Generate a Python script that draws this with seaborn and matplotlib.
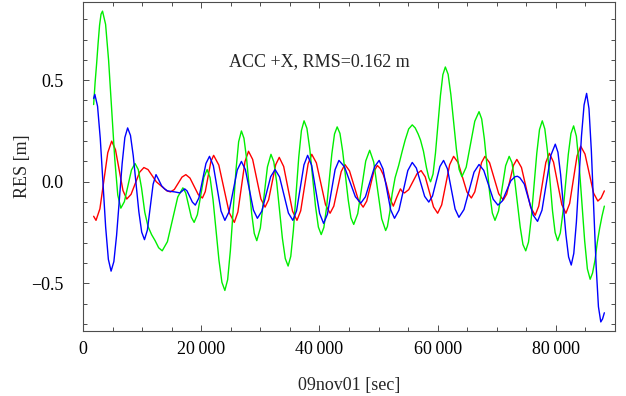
import pandas as pd
import numpy as np
import matplotlib
matplotlib.use("Agg")
import matplotlib.pyplot as plt
from matplotlib.ticker import MultipleLocator, FuncFormatter
import seaborn as sns

# Residuen, t in Sekunden, RES in m
t_red = [1800, 2200, 2860, 3530, 4190, 4850, 5490, 6130, 6760, 7400, 8130, 8850, 9580,
         10300, 11000, 11700, 12400, 13000, 13600, 14200, 14800, 15450, 16100, 16750,
         17400, 18100, 18800, 19500, 20200, 20680, 21150, 21630, 22100, 22980, 23850,
         24730, 25600, 26200, 26800, 27400, 28000, 28700, 29400, 30100, 30800, 31400,
         32000, 32600, 33200, 33950, 34700, 35450, 36200, 36830, 37450, 38080, 38700,
         39480, 40250, 41030, 41800, 42430, 43050, 43680, 44300, 45080, 45850, 46630,
         47400, 48000, 48600, 49200, 49800, 50300, 50800, 51300, 51900, 52500, 53100,
         53700, 54050, 54400, 55100, 55800, 56500, 57200, 57900, 58600, 59300, 60000,
         60680, 61350, 62030, 62700, 63450, 64200, 64950, 65700, 66280, 66850, 67430,
         68000, 68780, 69550, 70330, 71100, 71680, 72250, 72830, 73400, 74180, 74950,
         75730, 76500, 77100, 77700, 78300, 78900, 79600, 80300, 81000, 81700, 82330,
         82950, 83580, 84200, 84930, 85650, 86380, 87100, 87650, 88200]
res_red = [-0.17, -0.19, -0.133, 0.005, 0.143, 0.20, 0.158, 0.058, -0.043, -0.085, -0.062,
           -0.008, 0.047, 0.07, 0.06, 0.03, 0.0, -0.015, -0.03, -0.045, -0.05, -0.038,
           -0.008, 0.023, 0.035, 0.018, -0.023, -0.063, -0.08, -0.049, 0.025, 0.099, 0.13,
           0.082, -0.035, -0.152, -0.20, -0.149, -0.025, 0.099, 0.15, 0.11, 0.013, -0.085,
           -0.125, -0.089, -0.003, 0.084, 0.12, 0.075, -0.035, -0.145, -0.19, -0.143,
           -0.028, 0.088, 0.135, 0.093, -0.01, -0.113, -0.155, -0.12, -0.035, 0.05, 0.085,
           0.054, -0.02, -0.094, -0.125, -0.095, -0.023, 0.05, 0.08, 0.065, 0.035, -0.01,
           -0.08, -0.12, -0.075, -0.035, -0.05, -0.055, -0.039, 0.0, 0.039, 0.055, 0.024,
           -0.05, -0.124, -0.155, -0.114, -0.015, 0.084, 0.125, 0.095, 0.023, -0.05, -0.08,
           -0.05, 0.023, 0.095, 0.125, 0.094, 0.018, -0.059, -0.09, -0.061, 0.01, 0.081,
           0.11, 0.07, -0.028, -0.125, -0.165, -0.12, -0.013, 0.095, 0.14, 0.097, -0.008,
           -0.112, -0.155, -0.107, 0.01, 0.127, 0.175, 0.136, 0.04, -0.056, -0.095, -0.08,
           -0.045]

t_green = [1800, 2050, 2300, 2550, 2800, 3050, 3300, 3820, 4330, 4850, 5370, 5880, 6400,
           7000, 7600, 8200, 8800, 9350, 9900, 10450, 11000, 11600, 12200, 12800, 13400,
           14280, 15150, 16030, 16900, 17380, 17850, 18330, 18800, 19350, 19900, 20450,
           21000, 21500, 22000, 22500, 23000, 23500, 24000, 24470, 24930, 25400, 25870,
           26330, 26800, 27230, 27670, 28100, 28530, 28970, 29400, 30000, 30600, 31200,
           31800, 32280, 32770, 33250, 33730, 34220, 34700, 35150, 35600, 36050, 36500,
           36950, 37400, 37880, 38370, 38850, 39330, 39820, 40300, 40750, 41200, 41650,
           42100, 42550, 43000, 43470, 43930, 44400, 44870, 45330, 45800, 46480, 47150,
           47830, 48500, 49180, 49850, 50530, 51200, 51500, 51900, 52300, 52800, 53400,
           54000, 54500, 55100, 55700, 56200, 56700, 57100, 57600, 58100, 58500, 58800,
           59220, 59630, 60050, 60470, 60880, 61300, 61770, 62230, 62700, 63170, 63630,
           64100, 64830, 65550, 66280, 67000, 67450, 67900, 68350, 68800, 69250, 69700,
           70300, 70900, 71500, 72100, 72570, 73030, 73500, 73970, 74430, 74900, 75370,
           75830, 76300, 76770, 77230, 77700, 78130, 78570, 79000, 79430, 79870, 80300,
           80750, 81200, 81650, 82100, 82550, 83000, 83470, 83930, 84400, 84870, 85330,
           85800, 86200, 86600, 87000, 87400, 87800, 88200]
res_green = [0.38, 0.49, 0.58, 0.68, 0.77, 0.825, 0.84, 0.775, 0.598, 0.355, 0.113, -0.065,
             -0.13, -0.098, -0.02, 0.058, 0.09, 0.06, -0.03, -0.15, -0.22, -0.26, -0.29,
             -0.325, -0.34, -0.295, -0.185, -0.075, -0.03, -0.055, -0.115, -0.175, -0.20,
             -0.162, -0.07, 0.022, 0.06, 0.02, -0.089, -0.238, -0.386, -0.495, -0.535,
             -0.482, -0.339, -0.143, 0.054, 0.197, 0.25, 0.214, 0.115, -0.02, -0.155,
             -0.254, -0.29, -0.228, -0.078, 0.073, 0.135, 0.098, -0.003, -0.14, -0.278,
             -0.378, -0.415, -0.367, -0.236, -0.058, 0.121, 0.252, 0.30, 0.263, 0.16, 0.02,
             -0.12, -0.223, -0.26, -0.225, -0.128, 0.005, 0.138, 0.235, 0.27, 0.238, 0.15,
             0.03, -0.09, -0.178, -0.21, -0.157, -0.028, 0.102, 0.155, 0.097, -0.043,
             -0.182, -0.24, -0.22, -0.15, -0.06, 0.02, 0.08, 0.15, 0.205, 0.26, 0.28,
             0.265, 0.235, 0.205, 0.15, 0.07, 0.02, 0.0, 0.038, 0.141, 0.283, 0.424, 0.527,
             0.565, 0.529, 0.43, 0.295, 0.16, 0.061, 0.025, 0.072, 0.185, 0.298, 0.345,
             0.309, 0.211, 0.078, -0.056, -0.154, -0.19, -0.144, -0.033, 0.079, 0.125,
             0.094, 0.009, -0.108, -0.224, -0.309, -0.34, -0.297, -0.18, -0.02, 0.14,
             0.257, 0.30, 0.26, 0.153, 0.005, -0.143, -0.25, -0.29, -0.252, -0.149, -0.008,
             0.134, 0.237, 0.275, 0.224, 0.086, -0.103, -0.291, -0.429, -0.48, -0.45,
             -0.39, -0.30, -0.23, -0.17, -0.12]

t_blue = [1800, 2000, 2460, 2920, 3380, 3830, 4290, 4750, 5220, 5680, 6150, 6620, 7080,
          7550, 8030, 8500, 8980, 9450, 9930, 10400, 10890, 11380, 11860, 12350, 12800,
          13300, 13800, 14300, 15500, 16400, 16800, 17200, 17600, 18000, 18500, 19000,
          19600, 20200, 20800, 21400, 22050, 22700, 23350, 24000, 24700, 25400, 26100,
          26800, 27480, 28150, 28830, 29500, 30250, 31000, 31750, 32500, 33250, 34000,
          34750, 35500, 36130, 36750, 37380, 38000, 38680, 39350, 40030, 40700, 41350,
          42000, 42650, 43300, 44230, 45150, 46080, 47000, 47780, 48550, 49330, 50100,
          50750, 51400, 52050, 52700, 53450, 54200, 54950, 55700, 56400, 57100, 57800,
          58500, 59130, 59750, 60380, 61000, 61650, 62300, 62950, 63600, 64450, 65300,
          66150, 67000, 67800, 68600, 69400, 70200, 70930, 71650, 72380, 73100, 73500,
          73900, 74650, 75400, 76150, 76900, 77650, 78400, 79150, 79900, 80350, 80800,
          81250, 81700, 82150, 82600, 83030, 83470, 83900, 84330, 84770, 85200, 85600,
          86000, 86400, 86800, 87200, 87600, 87900, 88200]
res_blue = [0.41, 0.43, 0.372, 0.213, -0.005, -0.223, -0.382, -0.44, -0.393, -0.264, -0.088,
            0.089, 0.218, 0.265, 0.228, 0.128, -0.01, -0.148, -0.248, -0.285, -0.238,
            -0.125, -0.012, 0.035, 0.01, -0.02, -0.035, -0.045, -0.05, -0.055, -0.045,
            -0.035, -0.045, -0.07, -0.10, -0.115, -0.08, 0.005, 0.09, 0.125, 0.079,
            -0.033, -0.144, -0.19, -0.148, -0.045, 0.058, 0.10, 0.059, -0.04, -0.139,
            -0.18, -0.145, -0.06, 0.025, 0.06, 0.024, -0.065, -0.154, -0.19, -0.143, -0.03,
            0.083, 0.13, 0.081, -0.038, -0.156, -0.205, -0.16, -0.05, 0.06, 0.105, 0.074,
            0.0, -0.074, -0.105, -0.074, 0.0, 0.074, 0.105, 0.063, -0.038, -0.138, -0.18,
            -0.14, -0.043, 0.055, 0.095, 0.067, -0.003, -0.072, -0.10, -0.07, 0.003, 0.075,
            0.105, 0.064, -0.035, -0.134, -0.175, -0.137, -0.045, 0.047, 0.085, 0.056,
            -0.015, -0.086, -0.115, -0.095, -0.045, 0.005, 0.025, 0.027, 0.02, -0.011,
            -0.088, -0.164, -0.195, -0.14, -0.005, 0.13, 0.185, 0.145, 0.036, -0.113,
            -0.261, -0.37, -0.41, -0.353, -0.199, 0.013, 0.224, 0.378, 0.435, 0.36, 0.154,
            -0.128, -0.409, -0.615, -0.69, -0.675, -0.645]

frames = []
for name, t, r in [("red", t_red, res_red), ("green", t_green, res_green), ("blue", t_blue, res_blue)]:
    frames.append(pd.DataFrame({"t": t, "res": r, "series": name}))
df = pd.concat(frames, ignore_index=True)

sns.set_style("ticks")
plt.rcParams['font.family'] = ['Liberation Serif', 'DejaVu Serif']
plt.rcParams['font.size'] = 13

fig = plt.figure(figsize=(6.26, 3.96), dpi=100)
ax = fig.add_axes([0.1326, 0.164, 0.8498, 0.831])

sns.lineplot(data=df, x="t", y="res", hue="series",
             palette={"red": "#ff0000", "green": "#00ee00", "blue": "#0000ff"},
             estimator=None, sort=False, legend=False, linewidth=1.0, ax=ax)
for ln in ax.get_lines():
    ln.set_solid_joinstyle("round")

ax.set_xlim(0, 90000)
ax.set_ylim(-0.735, 0.885)
ax.xaxis.set_major_locator(MultipleLocator(20000))
ax.xaxis.set_minor_locator(MultipleLocator(5000))
ax.yaxis.set_major_locator(MultipleLocator(0.5))
ax.yaxis.set_minor_locator(MultipleLocator(0.1))
ax.xaxis.set_major_formatter(FuncFormatter(
    lambda v, _: "0" if v == 0 else f"{int(v):,}".replace(",", "\u2009")))

for s in ax.spines.values():
    s.set_color("0.3")
    s.set_linewidth(0.8)
ax.tick_params(which="both", direction="in", top=True, right=True, colors="0.3",
               labelcolor="black", width=0.7)
ax.tick_params(which="major", length=4.5)
ax.tick_params(which="minor", length=2.8)
ax.tick_params(axis="y", which="major", pad=14)
ax.tick_params(axis="x", which="major", pad=7)

ax.text(0.445, 0.818, "ACC +X, RMS=0.162 m", transform=ax.transAxes, ha="center", va="center")
ax.set_xlabel("09nov01 [sec]", labelpad=14)
ax.set_ylabel("RES [m]", labelpad=0)

plt.savefig("out.png", dpi=100)
